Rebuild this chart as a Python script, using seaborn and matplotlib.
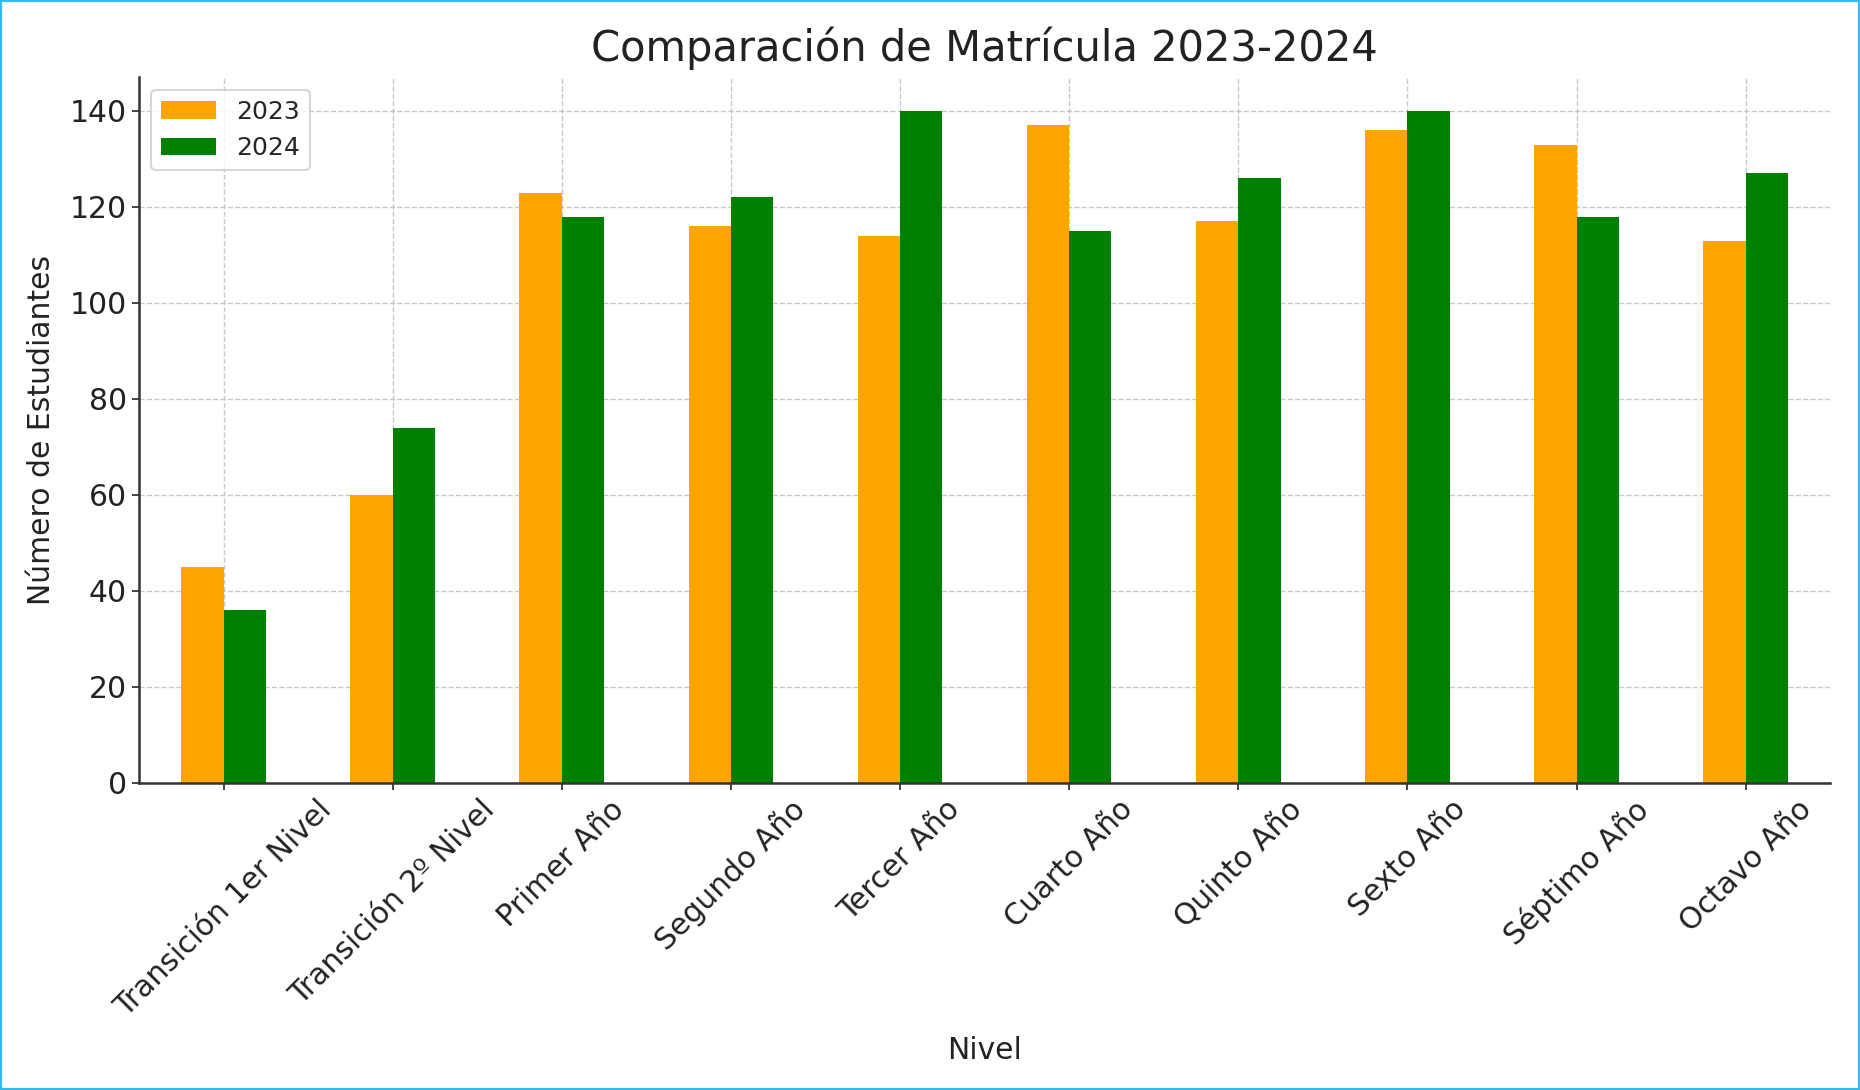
import pandas as pd
import numpy as np
import matplotlib
matplotlib.use("Agg")
import matplotlib.pyplot as plt
import seaborn as sns
from matplotlib.patches import Rectangle

# Data
niveles = [
    "Transición 1er Nivel", "Transición 2º Nivel", "Primer Año", "Segundo Año",
    "Tercer Año", "Cuarto Año", "Quinto Año", "Sexto Año", "Séptimo Año", "Octavo Año",
]
matricula_2023 = [45, 60, 123, 116, 114, 137, 117, 136, 133, 113]
matricula_2024 = [36, 74, 118, 122, 140, 115, 126, 140, 118, 127]
years = ["2023", "2024"]
colors = {"2023": "orange", "2024": "green"}

df = pd.DataFrame({
    "Nivel": niveles * 2,
    "Año": [years[0]] * len(niveles) + [years[1]] * len(niveles),
    "Estudiantes": matricula_2023 + matricula_2024,
})

sns.set_style("ticks")
plt.rcParams["font.family"] = ["DejaVu Sans"]

fig = plt.figure(figsize=(18.6, 10.9), dpi=100)
ax = fig.add_axes([0.0747, 0.2817, 0.9093, 0.6473])

sns.barplot(data=df, x="Nivel", y="Estudiantes", hue="Año", order=niveles,
            hue_order=years, palette=colors, width=0.5, saturation=1,
            errorbar=None, linewidth=0, ax=ax)

ax.set_xlim(-0.5, len(niveles) - 0.5)
ax.set_ylim(0, 147)
ax.set_yticks(np.arange(0, 141, 20))
ax.grid(True, linestyle="--", color="#bbbbbb", linewidth=1.0, alpha=0.8)
ax.set_axisbelow(True)

for side in ["top", "right"]:
    ax.spines[side].set_visible(False)
for side in ["left", "bottom"]:
    ax.spines[side].set_color("#333333")
    ax.spines[side].set_linewidth(1.8)

ax.tick_params(axis="both", labelsize=21.5, colors="#222222", length=5, width=1.2)
plt.setp(ax.get_xticklabels(), rotation=45, ha="center")

ax.set_title("Comparación de Matrícula 2023-2024", fontsize=30, color="#222222", pad=12)
ax.set_xlabel("Nivel", fontsize=21.5, color="#222222", labelpad=10)
ax.set_ylabel("Número de Estudiantes", fontsize=21.5, color="#222222", labelpad=10)

leg = ax.legend(loc="upper left", fontsize=18, frameon=True, handlelength=2.2,
                borderaxespad=0.5)
leg.get_frame().set_edgecolor("#cccccc")
leg.get_frame().set_linewidth(1.5)

# thin cyan frame around the image, as in the reference screenshot
fig.patches.append(Rectangle((0, 0), 1, 1, transform=fig.transFigure, fill=False,
                             edgecolor="#33bbee", linewidth=3))

fig.savefig("out.png", dpi=100, facecolor="white")
